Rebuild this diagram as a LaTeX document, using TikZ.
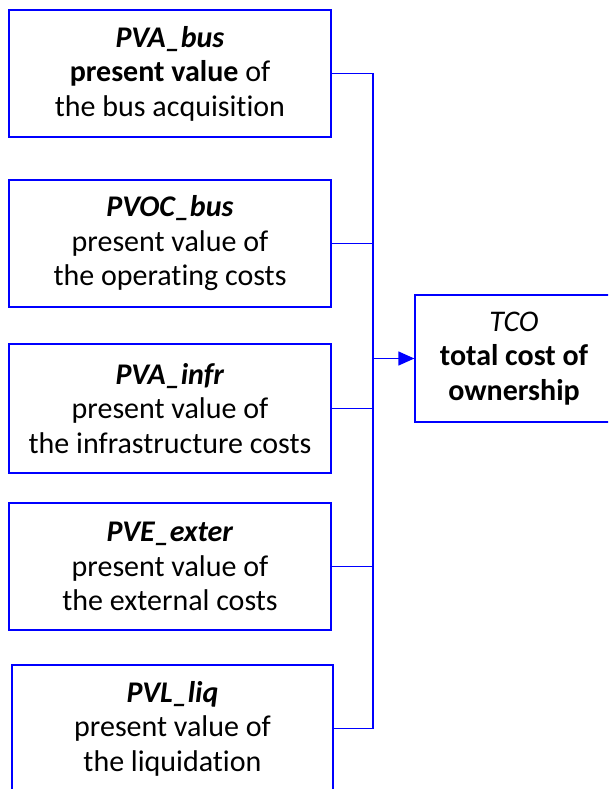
\documentclass[tikz,border=0pt]{standalone}
\usepackage{fontspec}
\setmainfont{Carlito}[Ligatures=NoCommon]
\usetikzlibrary{arrows.meta}
\begin{document}
\begin{tikzpicture}[x=1pt,y=-1pt,
  box/.style={draw=blue, line width=1.3pt, fill=white, align=center, inner sep=0pt,
    font=\fontsize{30}{34.5}\selectfont, text=black},
  link/.style={draw=blue, line width=1.3pt}]
\path[use as bounding box] (0,0) rectangle (608,789);
\begin{scope}
\clip (0,0) rectangle (608,789);
\node[box, minimum width=322, minimum height=127] (b1) at (170,73.5)
  {\textbf{\textit{PVA\_bus}}\\\textbf{present value} of\\the bus acquisition};
\node[box, minimum width=322, minimum height=127] (b2) at (170,243.5)
  {\textbf{\textit{PVOC\_bus}}\\present value of\\the operating costs};
\node[box, minimum width=322, minimum height=129] (b3) at (170,408.5)
  {\textbf{\textit{PVA\_infr}}\\present value of\\the infrastructure costs};
\node[box, minimum width=322, minimum height=127] (b4) at (170,566.5)
  {\textbf{\textit{PVE\_exter}}\\present value of\\the external costs};
\node[box, minimum width=321, minimum height=127] (b5) at (172.5,728.5)
  {\textbf{\textit{PVL\_liq}}\\present value of\\the liquidation};
\node[box, minimum width=198, minimum height=127] (tco) at (514,358.5)
  {\textit{TCO}\\\textbf{total cost of}\\\textbf{ownership}};
\coordinate (bus) at (373,358.5);
\draw[link] (b1.east) -- (b1.east -| bus) -- (b5.east -| bus) -- (b5.east);
\draw[link] (b2.east) -- (b2.east -| bus);
\draw[link] (b3.east) -- (b3.east -| bus);
\draw[link] (b4.east) -- (b4.east -| bus);
\draw[link, -{Triangle[length=16pt,width=14pt]}] (bus) -- (tco.west);
\end{scope}
\end{tikzpicture}
\end{document}
